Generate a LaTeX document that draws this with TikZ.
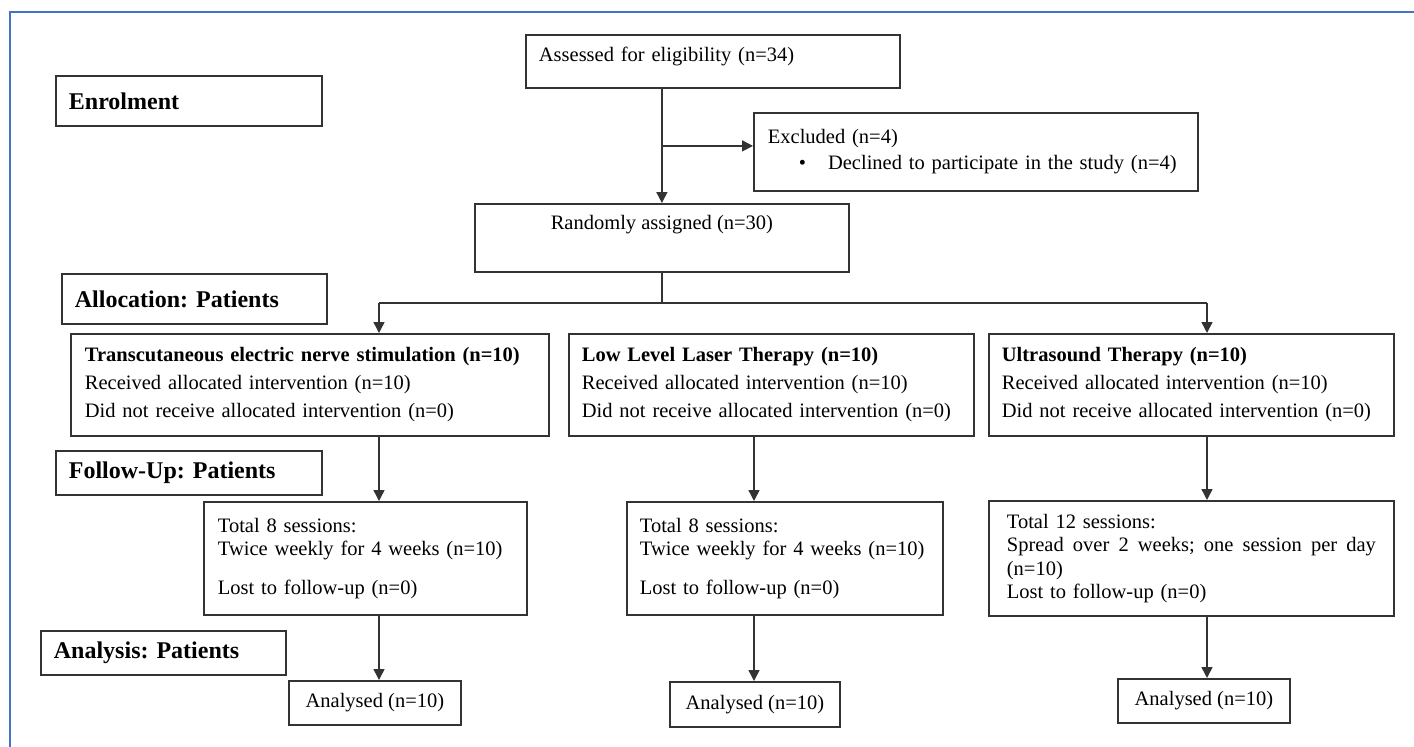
\documentclass[tikz,border=0pt]{standalone}
\usepackage{fontspec}
\setmainfont{Liberation Serif}
\usepackage{xcolor}
\usetikzlibrary{arrows.meta}
\definecolor{flowink}{HTML}{333333}
\definecolor{flowframe}{HTML}{4472C4}
\frenchspacing

\begin{document}
\begin{tikzpicture}[x=1pt, y=-1pt, >={Triangle[length=11pt,width=11pt]},
                    every node/.style={black, font=\fontsize{20.5}{26}\selectfont},
                    box/.style={draw=flowink, line width=1.8pt, anchor=north west,
                                inner xsep=14pt, inner ysep=0pt, align=left},
                    stage/.style={box, inner xsep=13pt,
                                  font=\fontsize{24}{28}\selectfont\bfseries},
                    arm/.style={box, font=\fontsize{20.5}{28}\selectfont, minimum height=102pt},
                    sess/.style={box, font=\fontsize{20.5}{23.5}\selectfont},
                    result/.style={box, align=center, inner xsep=0pt},
                    flow/.style={flowink, line width=1.5pt}]

  \useasboundingbox (0,0) rectangle (1414,747);

  %% frame of the figure
  \draw[flowframe, line width=2pt] (10,747) -- (10,12) -- (1414,12);

  %% stage labels
  \node[stage, text width=240pt, minimum height=50pt] (enrol) at (55,75) {Enrolment};
  \node[stage, text width=239pt, minimum height=50pt] (alloc) at (61,273) {Allocation: Patients};
  \node[stage, text width=240pt, minimum height=44pt] (follow) at (55,450) {Follow-Up: Patients};
  \node[stage, text width=219pt, minimum height=44pt] (analysis) at (40,630) {Analysis: Patients};

  %% enrolment
  \node[box, inner xsep=13pt, text width=348pt, text height=26.5pt, text depth=26.5pt]
    (assess) at (525,34) {Assessed for eligibility (n=34)};
  \node[box, inner xsep=14pt, text width=416pt, minimum height=78pt] (excl) at (753,112)
    {Excluded (n=4)\\\hspace*{31pt}\textbullet\hspace{22pt}Declined to participate in the study (n=4)};
  \node[box, inner xsep=0pt, minimum width=374pt, align=center, text height=26pt, text depth=42pt]
    (random) at (474,203) {Randomly assigned (n=30)};

  %% allocation
  \node[arm, text width=450pt] (tens) at (70,333)
    {\textbf{Transcutaneous electric nerve stimulation (n=10)}\\
     Received allocated intervention (n=10)\\
     Did not receive allocated intervention (n=0)};
  \node[arm, inner xsep=13pt, text width=379pt] (lllt) at (568,333)
    {\textbf{Low Level Laser Therapy (n=10)}\\
     Received allocated intervention (n=10)\\
     Did not receive allocated intervention (n=0)};
  \node[arm, inner xsep=13pt, text width=379pt] (us) at (988,333)
    {\textbf{Ultrasound Therapy (n=10)}\\
     Received allocated intervention (n=10)\\
     Did not receive allocated intervention (n=0)};

  %% follow-up
  \node[sess, text width=295pt, minimum height=113pt] (tsess) at (203,501)
    {Total 8 sessions:\\Twice weekly for 4 weeks (n=10)\\[15pt]Lost to follow-up (n=0)};
  \node[sess, inner xsep=13pt, text width=290pt, minimum height=113pt] (lsess) at (626,501)
    {Total 8 sessions:\\Twice weekly for 4 weeks (n=10)\\[15pt]Lost to follow-up (n=0)};
  \node[sess, inner xsep=18pt, text width=369pt, minimum height=115pt] (usess) at (988,500)
    {Total 12 sessions:\\
     \makebox[369pt][l]{Spread \hfill over \hfill 2 \hfill weeks; \hfill one \hfill session \hfill per \hfill day}\\
     (n=10)\\Lost to follow-up (n=0)};

  %% analysis
  \node[result, minimum width=172pt, minimum height=44pt] (tana) at (288,680) {Analysed (n=10)};
  \node[result, minimum width=170pt, minimum height=45pt] (lana) at (669,681) {Analysed (n=10)};
  \node[result, minimum width=172pt, minimum height=44pt] (uana) at (1117,678) {Analysed (n=10)};

  %% columns of the connectors
  \coordinate (tcol) at (379,0);
  \coordinate (lcol) at (754,0);
  \coordinate (ucol) at (1207,0);
  \coordinate (split) at (0,303);
  \coordinate (exclin) at ([yshift=6pt]excl.west);

  \draw[flow, ->] (random.north |- assess.south) -- (random.north);
  \draw[flow, ->] (random.north |- exclin) -- (exclin);
  \draw[flow] (random.south) -- (random.south |- split);
  \draw[flow] (tcol |- split) -- (ucol |- split);
  \draw[flow, ->] (tcol |- split) -- (tcol |- tens.north);
  \draw[flow, ->] (ucol |- split) -- (ucol |- us.north);

  \draw[flow, ->] (tcol |- tens.south) -- (tcol |- tsess.north);
  \draw[flow, ->] (tcol |- tsess.south) -- (tcol |- tana.north);
  \draw[flow, ->] (lcol |- lllt.south) -- (lcol |- lsess.north);
  \draw[flow, ->] (lcol |- lsess.south) -- (lcol |- lana.north);
  \draw[flow, ->] (ucol |- us.south) -- (ucol |- usess.north);
  \draw[flow, ->] (ucol |- usess.south) -- (ucol |- uana.north);

\end{tikzpicture}
\end{document}
